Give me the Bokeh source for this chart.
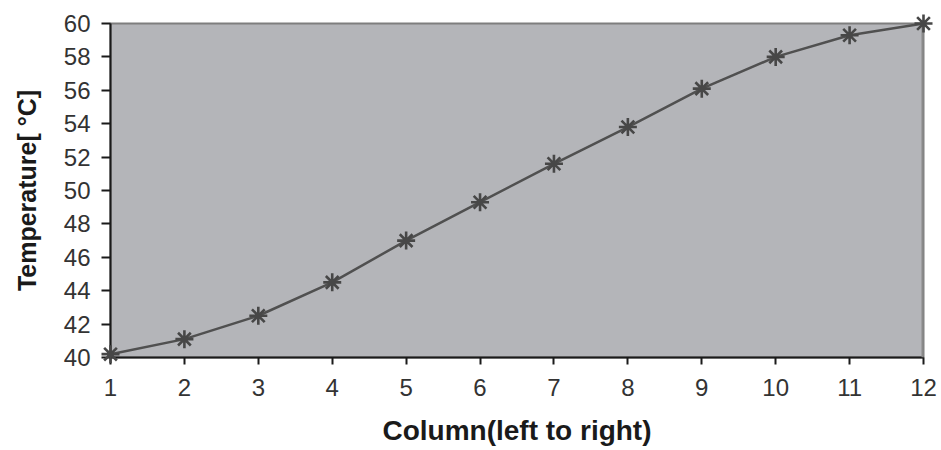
from bokeh.plotting import figure
from bokeh.models import Range1d, FixedTicker, Span
from bokeh.embed import file_html
from bokeh.resources import INLINE

# Data
columns = [1, 2, 3, 4, 5, 6, 7, 8, 9, 10, 11, 12]
temperature = [40.2, 41.1, 42.5, 44.5, 47.0, 49.3, 51.6, 53.8, 56.1, 58.0, 59.3, 60.0]
x_ticks = [1, 2, 3, 4, 5, 6, 7, 8, 9, 10, 11, 12]
y_ticks = [40, 42, 44, 46, 48, 50, 52, 54, 56, 58, 60]

p = figure(width=941, height=450, output_backend="svg", toolbar_location=None,
           x_range=Range1d(1, 12), y_range=Range1d(40, 60),
           min_border_left=110, min_border_right=18,
           min_border_top=23, min_border_bottom=93)

p.background_fill_color = "#b4b5b9"
p.border_fill_color = "white"
p.grid.visible = False
p.outline_line_color = "#7e7e7e"
p.outline_line_width = 2

right_edge = Span(location=12, dimension="height", line_color="#8a8a8a", line_width=4)
p.add_layout(right_edge)

p.xaxis.ticker = FixedTicker(ticks=x_ticks)
p.yaxis.ticker = FixedTicker(ticks=y_ticks)
p.axis.minor_tick_line_color = None
p.axis.major_tick_in = 0
p.xaxis.major_tick_out = 7
p.yaxis.major_tick_out = 9
p.axis.axis_line_width = 2
p.axis.axis_line_color = "#1a1a1a"
p.axis.major_tick_line_width = 2
p.axis.major_tick_line_color = "#1a1a1a"
p.axis.major_label_text_font = "Liberation Sans"
p.axis.major_label_text_font_size = "24px"
p.axis.major_label_text_color = "#333333"
p.xaxis.major_label_standoff = 14
p.yaxis.major_label_standoff = 11

p.xaxis.axis_label = "Column(left to right)"
p.yaxis.axis_label = "Temperature[ °C]"
p.axis.axis_label_text_font = "Liberation Sans"
p.axis.axis_label_text_font_style = "bold"
p.xaxis.axis_label_text_font_size = "28px"
p.yaxis.axis_label_text_font_size = "25px"
p.axis.axis_label_text_color = "#1a1a1a"
p.xaxis.axis_label_standoff = 16
p.yaxis.axis_label_standoff = 20

p.line(columns, temperature, line_color="#505050", line_width=2.5)
p.scatter(columns, temperature, marker="asterisk", size=18,
          line_color="#474747", line_width=2.6, level="overlay")

open("out.html", "w").write(file_html(p, INLINE))
